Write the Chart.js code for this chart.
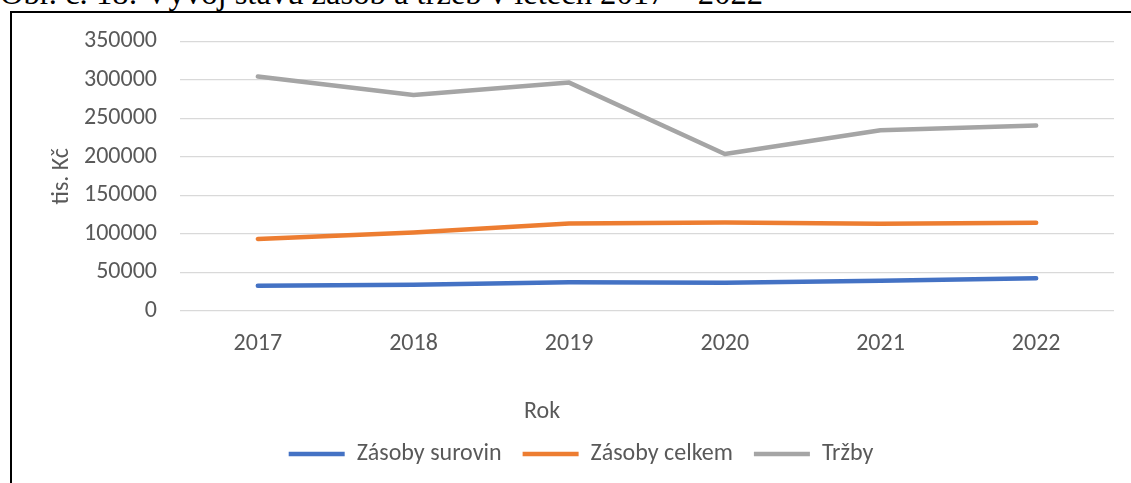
<!DOCTYPE html>
<html lang="cs">
<head>
<meta charset="utf-8">
<title>Vývoj stavu zásob a tržeb</title>
<script src="https://cdn.jsdelivr.net/npm/chart.js@4.4.1/dist/chart.umd.min.js"></script>
<style>
  html, body {
    margin: 0;
    padding: 0;
    width: 1131px;
    height: 483px;
    overflow: hidden;
    background: #fff;
    position: relative;
  }
  #nadpis {
    position: absolute;
    left: 0;
    top: -23px;
    font-family: "Liberation Serif", "Times New Roman", serif;
    font-size: 32.6px;
    line-height: 32px;
    white-space: nowrap;
    color: #000;
  }
  #ramecek {
    position: absolute;
    left: 10px;
    top: 11px;
    width: 1200px;
    height: 600px;
    border-left: 2px solid #000;
    border-top: 2px solid #000;
  }
  /* platno zacina o kus vys, graf si nahore stejne nechava volne misto */
  #obal {
    position: absolute;
    left: 12px;
    top: 4px;
    width: 1140px;
    height: 479px;
  }
</style>
</head>
<body>
<div id="nadpis">Obr. č. 18: Vývoj stavu zásob a tržeb v letech 2017 – 2022</div>
<div id="ramecek"></div>
<div id="obal"><canvas id="graf"></canvas></div>

<script>
// data v tis. Kč
const roky = ["2017", "2018", "2019", "2020", "2021", "2022"];
const zasobySurovin = [32800, 34100, 37200, 36700, 39300, 42400];
const zasobyCelkem = [93500, 102000, 113500, 114800, 113300, 114500];
const trzby = [304500, 280500, 296500, 203900, 234600, 240700];

const osaYMin = 0;
const osaYMax = 350000;
const osaYKrok = 50000;

const pismo = '"Carlito", "Liberation Sans", Arial, sans-serif';
const sedaText = "#595959";

// popisek osy x "Rok" – neni vycentrovany na plochu grafu, proto vlastni plugin
const popisekRok = {
  id: "popisekRok",
  afterDraw(chart) {
    const c = chart.ctx;
    const osaX = chart.scales.x;
    c.save();
    c.font = "24px " + pismo;
    c.fillStyle = sedaText;
    c.textAlign = "center";
    c.textBaseline = "middle";
    c.fillText("Rok", 530, osaX.bottom - 9);
    c.restore();
  },
};

const ctx = document.getElementById("graf");

const vytvorDataset = (nazev, data, barva) => ({
  label: nazev,
  data: data,
  borderColor: barva,
  backgroundColor: barva,
  borderWidth: 4.5,
  borderCapStyle: "round",
  borderJoinStyle: "round",
  pointRadius: 0,
  pointHoverRadius: 0,
  tension: 0,
  fill: false,
});

new Chart(ctx, {
  type: "line",
  data: {
    labels: roky,
    datasets: [
      vytvorDataset("Zásoby surovin", zasobySurovin, "#4472C4"),
      vytvorDataset("Zásoby celkem", zasobyCelkem, "#ED7D31"),
      vytvorDataset("Tržby", trzby, "#A5A5A5"),
    ],
  },
  options: {
    responsive: true,
    maintainAspectRatio: false,
    animation: false,
    layout: {
      autoPadding: false,
      padding: { top: 28, left: 36, right: 38, bottom: 7 },
    },
    plugins: {
      tooltip: { enabled: false },
      legend: {
        position: "bottom",
        labels: {
          usePointStyle: true,
          pointStyle: "line",
          pointStyleWidth: 56,
          padding: 21,
          color: sedaText,
          font: { family: pismo, size: 24 },
        },
      },
    },
    scales: {
      x: {
        offset: true,
        grid: { display: false },
        border: { display: false },
        ticks: {
          color: sedaText,
          padding: 11,
          font: { family: pismo, size: 24 },
        },
        afterFit: (osa) => {
          osa.height = 110;
        },
      },
      y: {
        min: osaYMin,
        max: osaYMax,
        grid: {
          color: "#d9d9d9",
          lineWidth: 1.3,
          drawTicks: false,
        },
        border: { display: false },
        ticks: {
          stepSize: osaYKrok,
          color: sedaText,
          padding: 23,
          font: { family: pismo, size: 24 },
          callback: (hodnota) => String(hodnota),
        },
        title: {
          display: true,
          text: "tis. Kč",
          color: sedaText,
          padding: 0,
          font: { family: pismo, size: 24 },
        },
        afterFit: (osa) => {
          osa.width = 132;
        },
      },
    },
  },
  plugins: [popisekRok],
});
</script>
</body>
</html>
